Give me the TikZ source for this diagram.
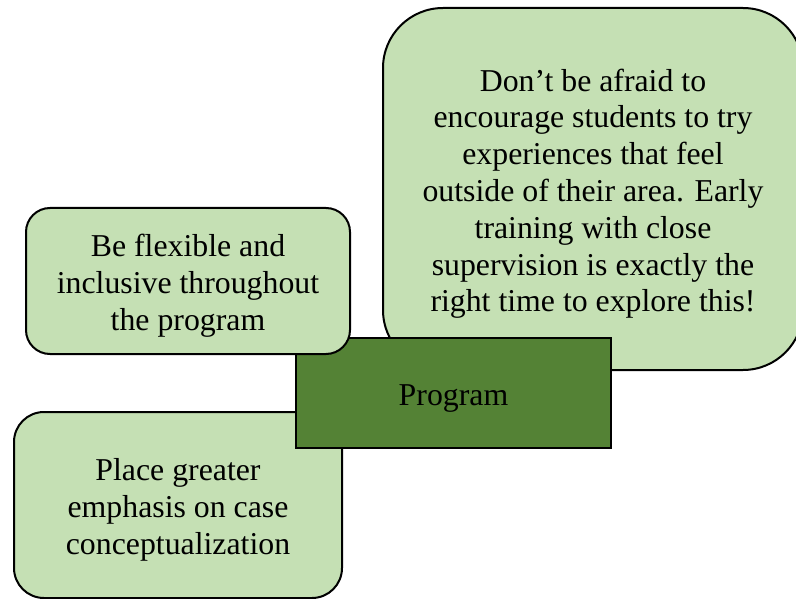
\documentclass[tikz,border=0pt]{standalone}
\usepackage{fontspec}
\setmainfont{Liberation Serif}
\usepackage{tikz}
\usetikzlibrary{positioning}
\definecolor{leafgreen}{HTML}{C5E0B4}
\definecolor{darkleaf}{HTML}{548235}
\begin{document}
\begin{tikzpicture}[
            x=1pt, y=-1pt,
            every node/.style={align=flush center, draw=black, line width=2pt, inner sep=0pt,
                font=\fontsize{31.8}{36.8}\selectfont,
                execute at begin node={\rule{0pt}{32pt}}},
            advice/.style={fill=leafgreen, rounded corners=#1, text width=300pt},
            advice/.default=26pt,
            hub/.style={fill=darkleaf, minimum width=315pt, minimum height=110pt}
        ]
            \useasboundingbox (0,0) rectangle (796,599);
            \clip (0,0) rectangle (796,599);
            \node [advice=60pt, text width=390pt, minimum width=420pt, minimum height=362pt] (explore) at (593,189)
                {Don’t be afraid to\\ encourage students to try\\ experiences that feel\\ outside of their area. Early\\ training with close\\ supervision is exactly the\\ right time to explore this!};
            \node [advice=30pt, minimum width=328pt, minimum height=186pt] (emphasis) at (178,505)
                {Place greater\\ emphasis on case\\ conceptualization};
            \node [hub] (program) at (453.5,393) {Program};
            \node [advice=24pt, minimum width=324pt, minimum height=146pt] (flexible) at (188,281)
                {Be flexible and\\ inclusive throughout\\ the program};
        \end{tikzpicture}
\end{document}
